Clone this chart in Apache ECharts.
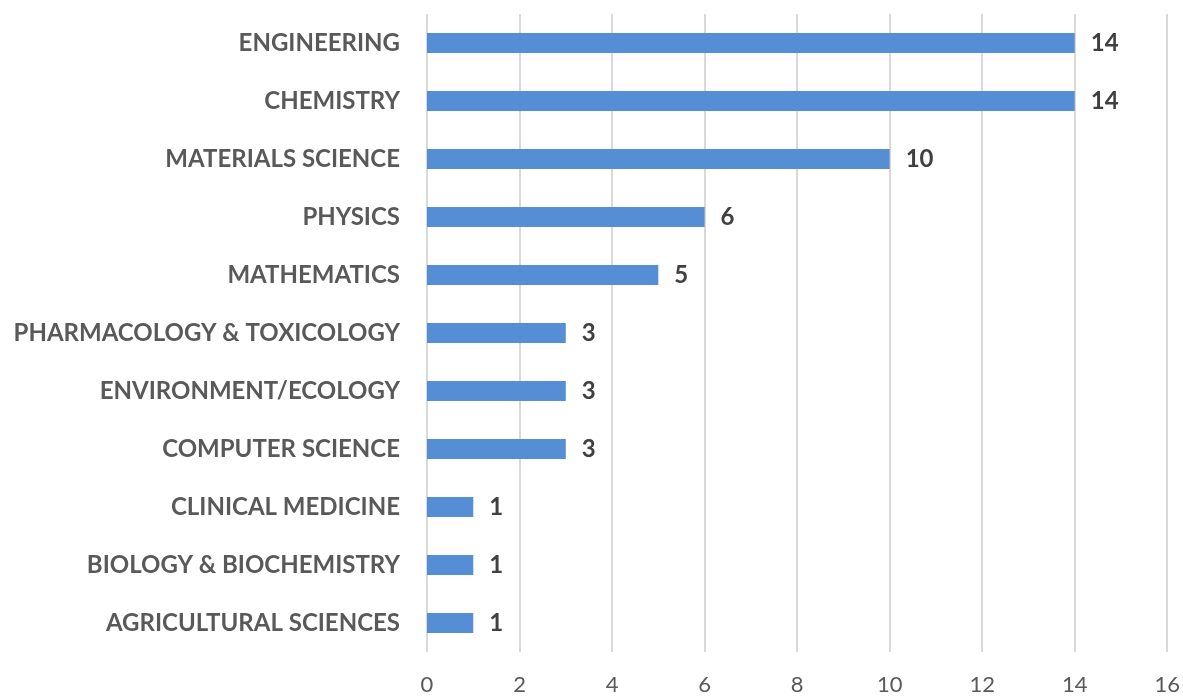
<!DOCTYPE html>
<html>
<head>
<meta charset="UTF-8">
<title>Subject categories</title>
<script src="https://cdn.jsdelivr.net/npm/echarts@6/dist/echarts.min.js"></script>
<style>
	html,body{margin:0;padding:0;background:#fff;}
	#chart{width:1183px;height:696px;}
</style>
</head>
<body>
<div id="chart"></div>
<script>
	// categories listed bottom to top (ECharts category axis starts at the bottom)
	var categories = ["AGRICULTURAL SCIENCES","BIOLOGY & BIOCHEMISTRY","CLINICAL MEDICINE","COMPUTER SCIENCE",
		"ENVIRONMENT/ECOLOGY","PHARMACOLOGY & TOXICOLOGY","MATHEMATICS","PHYSICS","MATERIALS SCIENCE",
		"CHEMISTRY","ENGINEERING"];
	var counts = [1,1,1,3,3,3,5,6,10,14,14];
	var axisMax = 16;
	var axisStep = 2;

	var myChart = echarts.init(document.getElementById("chart"));
	var option = {
		animation:false,
		grid:{left:427,right:13,top:14,bottom:41,containLabel:false},
		xAxis:{
			type:"value",
			min:0,
			max:axisMax,
			interval:axisStep,
			axisLine:{show:false},
			axisTick:{show:false},
			axisLabel:{color:"#595959",fontSize:22,fontFamily:"Lato",margin:22},
			splitLine:{show:true,lineStyle:{color:"#D9D9D9",width:2}}
		},
		yAxis:{
			type:"category",
			data:categories,
			axisLine:{show:false},
			axisTick:{show:false},
			axisLabel:{color:"#595959",fontSize:24,fontWeight:"bold",fontFamily:"Lato",margin:27}
		},
		series:[{
			type:"bar",
			data:counts,
			barWidth:20,
			itemStyle:{color:"#558ED5"},
			label:{
				show:true,
				position:"right",
				distance:16,
				color:"#404040",
				fontSize:24,
				fontWeight:"bold",
				fontFamily:"Lato"
			}
		}]
	};
	myChart.setOption(option);
</script>
</body>
</html>
